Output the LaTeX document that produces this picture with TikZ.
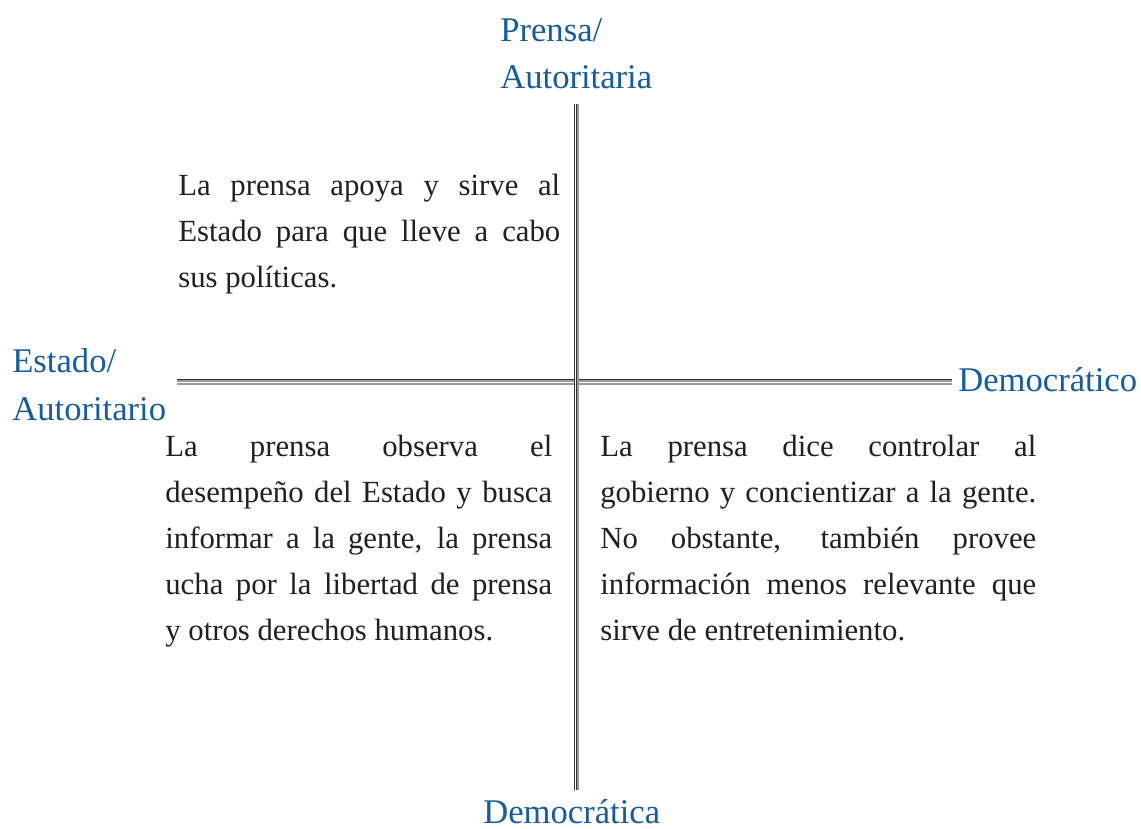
\documentclass[tikz,border=0pt]{standalone}
\usepackage{fontspec}
\setmainfont{Liberation Serif}
\usetikzlibrary{positioning}
\definecolor{ejeazul}{RGB}{22,92,160}
\definecolor{textogris}{RGB}{35,31,32}

\begin{document}
\begin{tikzpicture}[x=0.02cm, y=-0.02cm,
    etiqueta/.style={text=ejeazul, font=\fontsize{19.7}{27.3}\selectfont, align=left, inner sep=0pt, anchor=base west},
    cuadro/.style={text=textogris, font=\fontsize{17.5}{26.2}\selectfont, align=justify, inner sep=0pt, anchor=base west, text width=#1},
    ejevert/.style={draw=black!80, line width=0.5pt, double=white, double distance=0.6pt},
    ejehoriz/.style={draw=black!80, line width=0.5pt, double=black!40, double distance=0.8pt},
    ejegris/.style={draw=black!40, line width=1pt}]
    \useasboundingbox (0,0) rectangle (1141,828);
    % ejes
    \coordinate (arriba) at (575.2,104);
    \coordinate (abajo) at (575.2,790);
    \coordinate (izq) at (177,380.8);
    \coordinate (der) at (952,380.8);
    \draw[ejehoriz] (izq) -- (der);
    \draw[ejegris, transform canvas={yshift=-1.7pt}] (izq) -- (der);
    \draw[ejevert] (arriba) -- (abajo);
    \draw[ejegris, transform canvas={xshift=1.8pt}] (arriba) -- (abajo);
    % etiquetas de los ejes (base = ultima linea)
    \node[etiqueta] (prensa) at (500,89) {Prensa/\\Autoritaria};
    \node[etiqueta] (estado) at (12,420) {Estado/\\Autoritario};
    \node[etiqueta] (democratico) at (958,391) {Democrático};
    \node[etiqueta] (democratica) at (483,823) {Democrática};
    % cuadrantes
    \node[cuadro=7.64cm] (apoya) at (178,195) {\makebox[\hsize][s]{La prensa apoya y sirve al}\\
        \makebox[\hsize][s]{Estado para que lleve a cabo}\\
        sus políticas.};
    \node[cuadro=7.74cm] (observa) at (165,456) {\makebox[\hsize][s]{La prensa observa el}\\
        \makebox[\hsize][s]{desempeño del Estado y busca}\\
        \makebox[\hsize][s]{informar a la gente, la prensa}\\
        \makebox[\hsize][s]{ucha por la libertad de prensa}\\
        y otros derechos humanos.};
    \node[cuadro=8.72cm] (controla) at (600,456) {\makebox[\hsize][s]{La prensa dice controlar al}\\
        \makebox[\hsize][s]{gobierno y concientizar a la gente.}\\
        \makebox[\hsize][s]{No obstante, también provee}\\
        \makebox[\hsize][s]{información menos relevante que}\\
        sirve de entretenimiento.};
\end{tikzpicture}
\end{document}
